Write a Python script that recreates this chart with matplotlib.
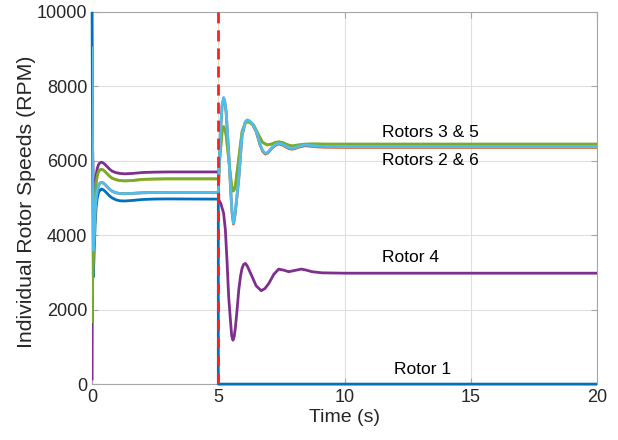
import matplotlib.pyplot as plt

plt.rcParams['font.family'] = ['Liberation Sans', 'DejaVu Sans']

# time (s) / speed (RPM) points
t_pre = [0, 0.02, 0.05, 0.08, 0.12, 0.16, 0.2, 0.25, 0.3, 0.36, 0.42, 0.5, 0.6, 0.7,
         0.8, 0.95, 1.1, 1.3, 1.6, 2.0, 2.5, 3.0, 5.0]

# Rotor 1 (fails at t = 5 s)
r1_pre = [10000, 6000, 2880, 3500, 4300, 4750, 4980, 5130, 5200, 5240, 5230, 5190, 5120,
          5050, 5000, 4950, 4925, 4920, 4935, 4960, 4972, 4975, 4970]
t1_post = [5.0, 20]
r1_post = [0, 0]

# Rotors 2 & 6
r6_pre = [9070, 6500, 3600, 3900, 4600, 5000, 5180, 5320, 5390, 5420, 5410, 5370, 5300,
          5230, 5180, 5140, 5120, 5115, 5125, 5140, 5148, 5150, 5150]
t6_post = [5.04, 5.08, 5.15, 5.21, 5.26, 5.31, 5.41, 5.48, 5.54, 5.6, 5.66, 5.73, 5.81,
           5.94, 6.07, 6.14, 6.22, 6.34, 6.5, 6.65, 6.76, 6.86, 6.96, 7.1, 7.25, 7.39,
           7.52, 7.65, 7.8, 7.92, 8.05, 8.2, 8.45, 8.65, 8.9, 9.2, 10, 20]
r6_post = [5900, 6690, 7500, 7700, 7580, 7320, 6245, 5350, 4650, 4320, 4550, 5000, 5530,
           6690, 7050, 7100, 7080, 7010, 6800, 6450, 6270, 6200, 6230, 6340, 6430, 6470,
           6450, 6400, 6345, 6330, 6350, 6390, 6425, 6410, 6395, 6385, 6380, 6380]
r2_post = [5880, 6670, 7480, 7680, 7560, 7300, 6225, 5330, 4630, 4300, 4530, 4980, 5510,
           6670, 7030, 7080, 7060, 6990, 6780, 6430, 6250, 6180, 6210, 6320, 6410, 6450,
           6430, 6380, 6325, 6310, 6330, 6370, 6405, 6390, 6375, 6365, 6360, 6360]

# Rotors 3 & 5
r5_pre = [1640, 2700, 3800, 4500, 5000, 5400, 5580, 5700, 5750, 5770, 5760, 5720, 5650,
          5580, 5530, 5490, 5470, 5460, 5470, 5500, 5510, 5515, 5515]
t5_post = [5.04, 5.08, 5.15, 5.21, 5.26, 5.31, 5.41, 5.48, 5.53, 5.58, 5.63, 5.68, 5.81,
           5.94, 6.07, 6.2, 6.4, 6.6, 6.75, 6.93, 7.1, 7.25, 7.39, 7.55, 7.75, 7.92, 8.1,
           8.45, 8.8, 9.2, 10, 20]
r5_post = [5900, 6245, 6785, 6920, 6850, 6690, 6065, 5620, 5330, 5190, 5220, 5350, 6065,
           6785, 7030, 7050, 6960, 6690, 6500, 6430, 6450, 6490, 6510, 6490, 6430, 6400,
           6420, 6450, 6455, 6450, 6450, 6450]
r3_post = [5890, 6235, 6775, 6910, 6840, 6680, 6055, 5610, 5320, 5180, 5210, 5340, 6055,
           6775, 7020, 7040, 6950, 6680, 6490, 6420, 6440, 6480, 6500, 6480, 6420, 6390,
           6410, 6440, 6445, 6440, 6440, 6440]

# Rotor 4
r4_pre = [100, 6380, 5000, 4900, 5300, 5600, 5780, 5890, 5940, 5960, 5950, 5910, 5840,
          5770, 5720, 5680, 5660, 5650, 5660, 5685, 5695, 5700, 5700]
t4_post = [5.02, 5.1, 5.21, 5.28, 5.35, 5.41, 5.48, 5.53, 5.58, 5.63, 5.68, 5.75, 5.81,
           5.88, 5.94, 6.0, 6.07, 6.15, 6.25, 6.34, 6.5, 6.7, 6.85, 7.0, 7.2, 7.39, 7.6,
           7.79, 8.0, 8.29, 8.5, 8.71, 9.11, 10, 20]
r4_post = [4950, 4850, 4590, 4140, 3245, 2350, 1720, 1300, 1180, 1280, 1540, 2050, 2530,
           2900, 3110, 3210, 3245, 3170, 3020, 2885, 2640, 2510, 2570, 2705, 2950, 3090,
           3060, 3020, 3050, 3090, 3060, 3020, 2990, 2980, 2980]

fault_t = 5

fig = plt.figure(figsize=(6.18, 4.4), dpi=100)
ax = fig.add_axes([0.149, 0.127, 0.817, 0.846])

lw = 2.0
kw = dict(lw=lw, solid_joinstyle='round', solid_capstyle='butt')
ax.plot(t_pre + t1_post, r1_pre + r1_post, color='#0072BD', clip_on=False, zorder=3, **kw)
ax.plot(t_pre + t6_post, r6_pre + r2_post, color='#D95319', zorder=3, **kw)
ax.plot(t_pre + t5_post, r5_pre + r3_post, color='#EDB120', zorder=3, **kw)
ax.plot(t_pre + t4_post, r4_pre + r4_post, color='#7E2F8E', zorder=3, **kw)
ax.plot(t_pre + t5_post, r5_pre + r5_post, color='#77AC30', zorder=3, **kw)
ax.plot(t_pre + t6_post, r6_pre + r6_post, color='#4DBEEE', zorder=3, **kw)
ax.axvline(fault_t, color='#FF1F1F', lw=2, ls=(0, (4, 2.5)), zorder=4)

fs = 12.5
ax.text(13.4, 6770, 'Rotors 3 & 5', ha='center', va='center', fontsize=fs)
ax.text(13.4, 6020, 'Rotors 2 & 6', ha='center', va='center', fontsize=fs)
ax.text(12.6, 3390, 'Rotor 4', ha='center', va='center', fontsize=fs)
ax.text(13.1, 400, 'Rotor 1', ha='center', va='center', fontsize=fs)

ax.set_xlim(0, 20)
ax.set_ylim(0, 10000)
ax.set_xticks([0, 5, 10, 15, 20])
ax.set_yticks(range(0, 10001, 2000))
ax.grid(True, color='#DFDFDF', lw=0.8)
ax.set_axisbelow(True)
for s in ax.spines.values():
    s.set_color('#A6A6A6')
    s.set_linewidth(0.8)
ax.tick_params(direction='in', length=4, color='#A6A6A6', labelsize=13,
               labelcolor='#262626', top=True, right=True)
ax.set_xlabel('Time (s)', fontsize=14, color='#262626', labelpad=2)
ax.set_ylabel('Individual Rotor Speeds (RPM)', fontsize=15.3, color='#262626',
              va='center')
ax.yaxis.set_label_coords(-0.129, 0.49)

fig.savefig('out.png', dpi=100)
